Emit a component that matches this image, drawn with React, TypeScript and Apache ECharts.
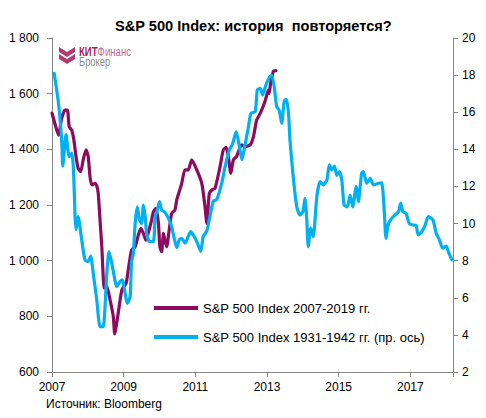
import React, { useEffect, useRef } from "react";
import * as echarts from "echarts";

const TITLE = "S&P 500 Index: история  повторяется?";
const SOURCE = "Источник: Bloomberg";
const SERIES_NAMES = ["S&P 500 Index 2007-2019 гг.", "S&P 500 Index 1931-1942 гг. (пр. ось)"];
const X_START = 2007;

// S&P 500 2007-2013 (left axis): decimal year position, value
const spYears = [
  2007.0, 2007.08, 2007.18, 2007.27, 2007.36, 2007.43, 2007.48, 2007.55, 2007.61, 2007.67,
  2007.73, 2007.8, 2007.87, 2007.95, 2008.01, 2008.06, 2008.11, 2008.2, 2008.25, 2008.29,
  2008.34, 2008.39, 2008.46, 2008.53, 2008.62, 2008.71, 2008.75, 2008.84, 2008.95, 2009.07,
  2009.12, 2009.22, 2009.32, 2009.41, 2009.48, 2009.55, 2009.62, 2009.72, 2009.78, 2009.83,
  2009.9, 2009.97, 2010.01, 2010.06, 2010.11, 2010.15, 2010.2, 2010.27, 2010.34, 2010.43,
  2010.48, 2010.55, 2010.62, 2010.71, 2010.8, 2010.9, 2011.04, 2011.18, 2011.27, 2011.32,
  2011.39, 2011.46, 2011.55, 2011.69, 2011.78, 2011.86, 2011.92, 2011.99, 2012.06, 2012.15,
  2012.29, 2012.39, 2012.53, 2012.62, 2012.71, 2012.81, 2012.94, 2013.04, 2013.06, 2013.1,
  2013.18, 2013.25,
];
const spValues = [
  1530, 1493, 1451, 1511, 1541, 1541, 1481, 1469, 1434, 1374,
  1332, 1320, 1362, 1398, 1374, 1302, 1272, 1278, 1268, 1242,
  1146, 1050, 901, 907, 859, 799, 737, 805, 895, 920,
  960, 1038, 1050, 1092, 1116, 1098, 1074, 1116, 1146, 1176,
  1188, 1134, 1050, 1032, 1098, 1074, 1050, 1110, 1170, 1182,
  1218, 1248, 1278, 1326, 1326, 1362, 1326, 1278, 1194, 1134,
  1242, 1254, 1260, 1338, 1398, 1407, 1374, 1314, 1362, 1374,
  1416, 1410, 1416, 1445, 1505, 1529, 1571, 1613, 1601, 1637,
  1681, 1683,
];

// S&P 500 1931-1942 (right axis), aligned to the same time base
const oldYears = [
  2007.06, 2007.18, 2007.27, 2007.3, 2007.39, 2007.48, 2007.55, 2007.59, 2007.62, 2007.64,
  2007.67, 2007.73, 2007.83, 2007.92, 2008.01, 2008.08, 2008.15, 2008.25, 2008.34, 2008.43,
  2008.53, 2008.59, 2008.67, 2008.81, 2008.9, 2008.97, 2009.04, 2009.1, 2009.18, 2009.22,
  2009.27, 2009.32, 2009.38, 2009.44, 2009.5, 2009.55, 2009.6, 2009.64, 2009.72, 2009.83,
  2009.88, 2009.94, 2010.0, 2010.06, 2010.13, 2010.2, 2010.29, 2010.34, 2010.41, 2010.48,
  2010.55, 2010.62, 2010.71, 2010.8, 2010.87, 2010.94, 2011.04, 2011.15, 2011.22, 2011.32,
  2011.41, 2011.5, 2011.6, 2011.74, 2011.83, 2011.95, 2012.04, 2012.14, 2012.23, 2012.3,
  2012.36, 2012.48, 2012.55, 2012.67, 2012.73, 2012.81, 2012.88, 2012.97, 2013.07, 2013.13,
  2013.2, 2013.27, 2013.34, 2013.41, 2013.48, 2013.54, 2013.6, 2013.64, 2013.74, 2013.83,
  2013.92, 2014.0, 2014.06, 2014.11, 2014.15, 2014.22, 2014.29, 2014.39, 2014.48, 2014.57,
  2014.67, 2014.74, 2014.81, 2014.88, 2014.95, 2015.02, 2015.09, 2015.15, 2015.24, 2015.32,
  2015.39, 2015.49, 2015.55, 2015.64, 2015.69, 2015.78, 2015.88, 2015.97, 2016.11, 2016.2,
  2016.27, 2016.32, 2016.39, 2016.48, 2016.57, 2016.67, 2016.73, 2016.79, 2016.88, 2016.97,
  2017.08, 2017.16, 2017.22, 2017.32, 2017.41, 2017.5, 2017.63, 2017.72, 2017.81, 2017.9,
  2018.0, 2018.06, 2018.16,
];
const oldValues = [
  18.1, 16.5, 14.5, 13.1, 14.8, 13.6, 13.8, 13.2, 11.8, 10.55,
  9.66, 10.37, 9.1, 8.04, 7.95, 8.25, 7.32, 5.88, 4.45, 4.45,
  7.32, 8.49, 7.86, 6.6, 6.87, 6.96, 6.24, 5.7, 6.06, 7.95,
  8.4, 10.0, 10.9, 10.2, 10.0, 11.0, 10.37, 9.48, 9.03, 9.03,
  10.37, 10.73, 11.18, 10.73, 10.64, 10.46, 10.1, 9.83, 9.2, 8.7,
  9.12, 9.2, 8.94, 9.3, 9.56, 9.39, 9.03, 8.5, 9.3, 9.6,
  10.4, 11.2, 11.3, 12.2, 13.07, 13.97, 14.3, 14.95, 14.14, 13.43,
  13.97, 15.2, 15.94, 16.03, 17.2, 17.29, 16.93, 17.47, 17.9, 18.0,
  17.38, 16.3, 16.1, 15.4, 16.6, 16.7, 15.94, 14.5, 12.35, 10.9,
  10.46, 10.64, 11.36, 10.2, 8.76, 9.75, 9.3, 11.45, 12.26, 12.08,
  12.35, 13.16, 12.89, 13.1, 12.6, 12.8, 12.3, 11.0, 10.9, 11.54,
  10.9, 11.99, 11.18, 12.71, 12.8, 12.17, 12.44, 12.08, 12.17, 12.2,
  10.73, 9.2, 10.0, 10.28, 10.46, 10.64, 11.1, 10.64, 10.55, 10.0,
  9.92, 9.9, 9.39, 9.56, 9.9, 10.37, 10.2, 9.48, 9.12, 8.67,
  8.79, 8.49, 8.04,
];

const xTickLabels = ["2007", "2009", "2011", "2013", "2015", "2017"];
const leftTicks = [600, 800, 1000, 1200, 1400, 1600, 1800];
const rightTicks = [2, 4, 6, 8, 10, 12, 14, 16, 18, 20];

const PURPLE = "#8C0B5E";
const BLUE = "#00B0F0";
const AXIS_GRAY = "#868686";
const FONT = "Arial, 'Liberation Sans', sans-serif";

function pairs(xs: number[], ys: number[]) {
  return xs.map((x, i) => [x - X_START, ys[i]]);
}

function fmtThousands(v: number) {
  const s = String(Math.round(v));
  return s.length > 3 ? s.slice(0, s.length - 3) + " " + s.slice(-3) : s;
}

export default function App() {
  const ref = useRef<HTMLDivElement>(null);
  useEffect(() => {
    document.body.style.margin = "0";
    if (!ref.current) return;
    const chart = echarts.init(ref.current, undefined, { renderer: "svg" });
    const axisLine = { show: true, lineStyle: { color: AXIS_GRAY, width: 1 } };
    const axisTick = { show: true, length: 5, inside: false, lineStyle: { color: AXIS_GRAY } };
    chart.setOption({
      animation: false,
      backgroundColor: "#ffffff",
      title: {
        text: TITLE,
        left: 110,
        top: 13,
        textStyle: { fontFamily: FONT, fontSize: 14.6, fontWeight: "bold", color: "#000" },
      },
      grid: { left: 52, right: 33, top: 38, bottom: 46, containLabel: false },
      legend: {
        orient: "vertical",
        left: 149,
        top: 295,
        itemWidth: 44,
        itemHeight: 4,
        itemGap: 13,
        icon: "rect",
        textStyle: { fontFamily: FONT, fontSize: 13, color: "#000", lineHeight: 16 },
        data: SERIES_NAMES,
      },
      xAxis: {
        type: "value",
        min: 0,
        max: 11.19,
        interval: 2,
        axisLine,
        axisTick,
        splitLine: { show: false },
        axisLabel: {
          margin: 9,
          fontFamily: FONT,
          fontSize: 12,
          color: "#000",
          formatter: (v: number) => xTickLabels[Math.round(v / 2)] ?? "",
        },
      },
      yAxis: [
        {
          type: "value",
          min: leftTicks[0],
          max: leftTicks[leftTicks.length - 1],
          interval: 200,
          position: "left",
          axisLine,
          axisTick,
          splitLine: { show: false },
          axisLabel: { margin: 13, fontFamily: FONT, fontSize: 12, color: "#000", formatter: fmtThousands },
        },
        {
          type: "value",
          min: rightTicks[0],
          max: rightTicks[rightTicks.length - 1],
          interval: 2,
          position: "right",
          axisLine,
          axisTick,
          splitLine: { show: false },
          axisLabel: { margin: 9, fontFamily: FONT, fontSize: 12, color: "#000" },
        },
      ],
      graphic: [
        {
          type: "polygon",
          shape: { points: [[59, 47], [67, 52], [75, 47], [75, 52], [67, 57], [59, 52]] },
          style: { fill: "#B23C6E" },
        },
        {
          type: "polygon",
          shape: { points: [[59, 54], [67, 59], [75, 54], [75, 59], [67, 64], [59, 59]] },
          style: { fill: "#B23C6E" },
        },
        {
          type: "text",
          x: 79,
          y: 51.5,
          style: {
            text: "{a|КИТ}{b|Финанс}",
            textVerticalAlign: "middle",
            rich: {
              a: { fontFamily: FONT, fontSize: 12, fontWeight: "bold", fill: "#A3245A" },
              b: { fontFamily: FONT, fontSize: 12, fill: "#C06A92" },
            },
          },
          scaleX: 0.8,
        },
        {
          type: "text",
          x: 79,
          y: 62,
          scaleX: 0.78,
          style: { text: "Брокер", fontFamily: FONT, fontSize: 12, fill: "#8A8A8A", textVerticalAlign: "middle" },
        },
        {
          type: "text",
          x: 46,
          y: 404,
          style: { text: SOURCE, fontFamily: FONT, fontSize: 12, fill: "#000", textVerticalAlign: "middle" },
        },
      ],
      series: [
        {
          name: SERIES_NAMES[0],
          type: "line",
          yAxisIndex: 0,
          data: pairs(spYears, spValues),
          showSymbol: false,
          smooth: 0.2,
          lineStyle: { color: PURPLE, width: 3.2, join: "round", cap: "round" },
          itemStyle: { color: PURPLE },
          z: 2,
        },
        {
          name: SERIES_NAMES[1],
          type: "line",
          yAxisIndex: 1,
          data: pairs(oldYears, oldValues),
          showSymbol: false,
          smooth: 0.2,
          lineStyle: { color: BLUE, width: 3.2, join: "round", cap: "round" },
          itemStyle: { color: BLUE },
          z: 3,
        },
      ],
    });
    return () => chart.dispose();
  }, []);
  return <div ref={ref} style={{ width: 486, height: 418 }} />;
}
